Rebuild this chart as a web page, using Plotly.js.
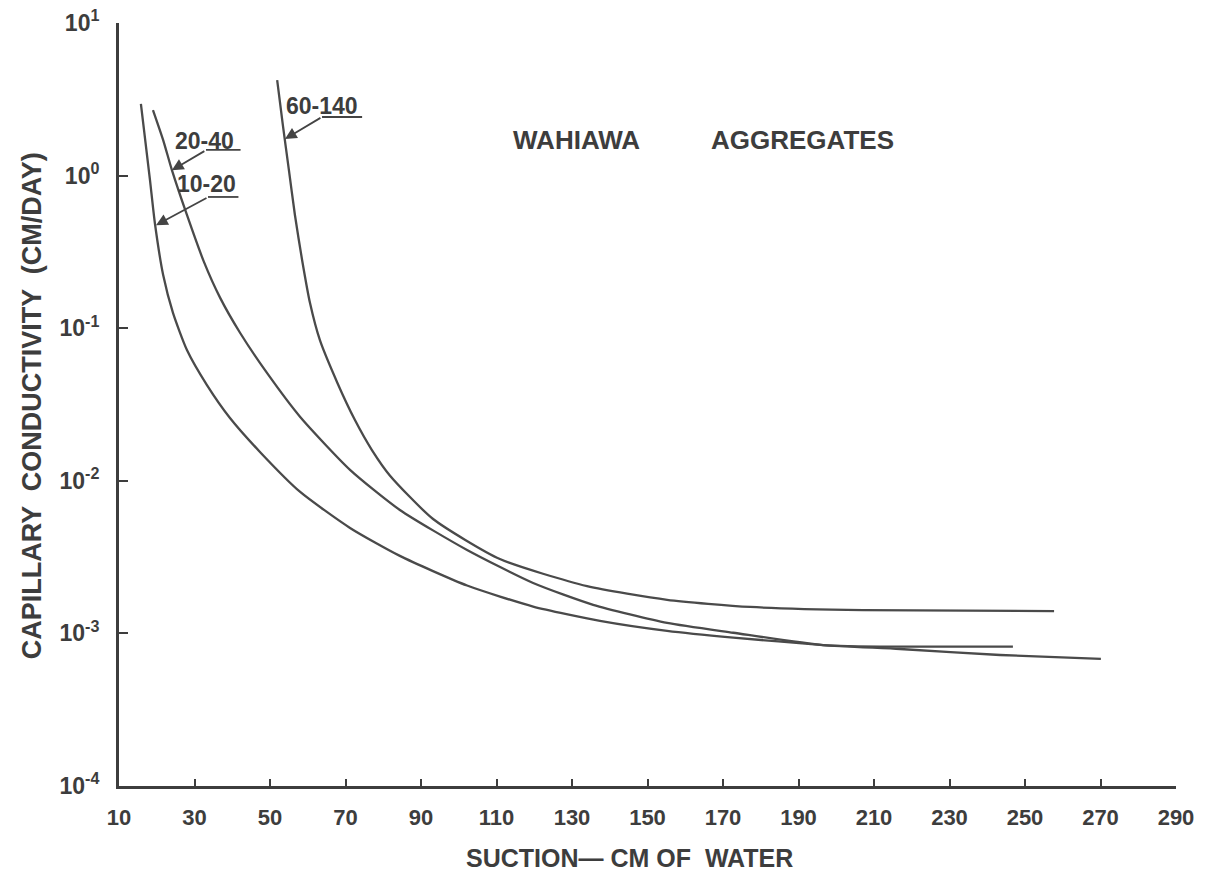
<!DOCTYPE html>
<html>
<head>
<meta charset="utf-8">
<script src="https://cdn.plot.ly/plotly-3.0.1.min.js"></script>
<style>
  html, body { margin: 0; padding: 0; background: #ffffff; }
  #chart { width: 1206px; height: 886px; }
</style>
</head>
<body>
<div id="chart"></div>
<script>
// Suction (cm of water) and capillary conductivity (cm/day)
const suction_10_20 = [15.8, 18.2, 19.5, 21.7, 24.3, 28.0, 33.3, 39.4, 47.4, 58.0, 71.2, 84.4, 102.2, 119.7, 137.4, 155.2, 172.7, 196.5, 216.9, 243.4, 270.1];
const k_10_20 = [2.95, 0.936, 0.489, 0.223, 0.126, 0.0720, 0.0424, 0.0258, 0.0154, 0.00845, 0.00491, 0.00322, 0.00206, 0.00150, 0.00121, 0.00104, 0.000939, 0.000839, 0.000790, 0.000722, 0.000680];

const suction_20_40 = [19.0, 21.7, 24.0, 28.0, 32.5, 36.8, 42.1, 49.2, 58.0, 71.2, 84.4, 102.2, 119.7, 135.6, 155.2, 172.7, 196.5, 216.9, 246.8];
const k_20_40 = [2.69, 1.71, 1.09, 0.552, 0.272, 0.158, 0.0930, 0.0509, 0.0262, 0.0118, 0.00644, 0.00352, 0.00214, 0.00154, 0.00117, 0.00101, 0.000839, 0.000818, 0.000820];

const suction_60_140 = [51.9, 53.4, 55.0, 56.6, 58.5, 60.6, 63.2, 67.8, 72.5, 77.0, 81.8, 93.2, 110.9, 134.0, 155.2, 177.2, 207.1, 257.7];
const k_60_140 = [4.23, 2.15, 1.09, 0.552, 0.280, 0.146, 0.0837, 0.0441, 0.0250, 0.0159, 0.0108, 0.00562, 0.00307, 0.00204, 0.00166, 0.00149, 0.00142, 0.00140];

const xTicks = [10, 30, 50, 70, 90, 110, 130, 150, 170, 190, 210, 230, 250, 270, 290];
const yTicks = [10, 1, 0.1, 0.01, 0.001, 0.0001];
const yTickText = ['10<sup>1</sup>', '10<sup>0</sup>', '10<sup>-1</sup>', '10<sup>-2</sup>', '10<sup>-3</sup>', '10<sup>-4</sup>'];

const seriesNames = ['10-20', '20-40', '60-140'];

const INK = '#3d3d3d';
const FONT = 'Liberation Sans, Arial, sans-serif';

const lineStyle = {color: '#4a4a4a', width: 2.3, shape: 'spline', smoothing: 0.6};

const traces = [
  {x: suction_10_20, y: k_10_20, name: seriesNames[0]},
  {x: suction_20_40, y: k_20_40, name: seriesNames[1]},
  {x: suction_60_140, y: k_60_140, name: seriesNames[2]}
].map(t => Object.assign(t, {type: 'scatter', mode: 'lines', line: lineStyle, hoverinfo: 'x+y+name'}));

// label placement (paper coordinates)
const labels = [
  {text: seriesNames[2], tx: 0.192, ty: 0.891, tipx: 0.157, tipy: 0.848, ax: 37, ay: -22, ux0: 0.1921, ux1: 0.230, uy: 0.8768},
  {text: seriesNames[1], tx: 0.081, ty: 0.845, tipx: 0.050, tipy: 0.807, ax: 34, ay: -20, ux0: 0.0823, ux1: 0.1150, uy: 0.8336},
  {text: seriesNames[0], tx: 0.083, ty: 0.789, tipx: 0.035, tipy: 0.735, ax: 52, ay: -28, ux0: 0.0842, ux1: 0.1130, uy: 0.7720}
];

const annotations = [];
const shapes = [];
labels.forEach(l => {
  annotations.push({xref: 'paper', yref: 'paper', x: l.tx, y: l.ty, text: '<b>' + l.text + '</b>', showarrow: false,
    xanchor: 'center', yanchor: 'middle', font: {family: FONT, size: 23, color: INK}});
  annotations.push({xref: 'paper', yref: 'paper', x: l.tipx, y: l.tipy, text: '', showarrow: true,
    ax: l.ax, ay: l.ay, arrowhead: 2, arrowsize: 1.3, arrowwidth: 1.8, arrowcolor: '#444', standoff: 0});
  shapes.push({type: 'line', xref: 'paper', yref: 'paper', x0: l.ux0, x1: l.ux1, y0: l.uy, y1: l.uy,
    line: {color: '#444', width: 1.8}});
});

annotations.push({xref: 'paper', yref: 'paper', x: 0.4331, y: 0.847, text: '<b>WAHIAWA</b>', showarrow: false,
  xanchor: 'center', yanchor: 'middle', font: {family: FONT, size: 26, color: INK}});
annotations.push({xref: 'paper', yref: 'paper', x: 0.6471, y: 0.847, text: '<b>AGGREGATES</b>', showarrow: false,
  xanchor: 'center', yanchor: 'middle', font: {family: FONT, size: 26, color: INK}});
annotations.push({xref: 'paper', yref: 'paper', x: 0.4834, y: -0.094, text: '<b>SUCTION\u2014 CM OF  WATER</b>', showarrow: false,
  xanchor: 'center', yanchor: 'middle', font: {family: FONT, size: 25, color: INK}});
annotations.push({xref: 'paper', yref: 'paper', x: -0.082, y: 0.498, text: '<b>CAPILLARY  CONDUCTIVITY  (CM/DAY)</b>', showarrow: false,
  textangle: -90, xanchor: 'center', yanchor: 'middle', font: {family: FONT, size: 27, color: INK}});

const layout = {
  width: 1206, height: 886,
  margin: {l: 119, r: 30, t: 23, b: 100},
  paper_bgcolor: '#ffffff', plot_bgcolor: '#ffffff',
  showlegend: false,
  xaxis: {
    type: 'linear', range: [10, 290], tickvals: xTicks, ticktext: xTicks.map(String),
    showline: true, linecolor: INK, linewidth: 2.6, mirror: false,
    ticks: 'inside', ticklen: 7, tickwidth: 2, tickcolor: INK,
    showgrid: false, zeroline: false, ticklabelstandoff: 10,
    tickfont: {family: FONT, size: 22, color: INK, weight: 'bold'}
  },
  yaxis: {
    type: 'log', range: [-4, 1], tickvals: yTicks, ticktext: yTickText,
    showline: true, linecolor: INK, linewidth: 3, mirror: false,
    ticks: 'inside', ticklen: 9, tickwidth: 2, tickcolor: INK,
    showgrid: false, zeroline: false, ticklabelstandoff: 12,
    tickfont: {family: FONT, size: 23, color: INK, weight: 'bold'}
  },
  annotations: annotations,
  shapes: shapes
};

Plotly.newPlot('chart', traces, layout, {displayModeBar: false, staticPlot: true});
</script>
</body>
</html>
